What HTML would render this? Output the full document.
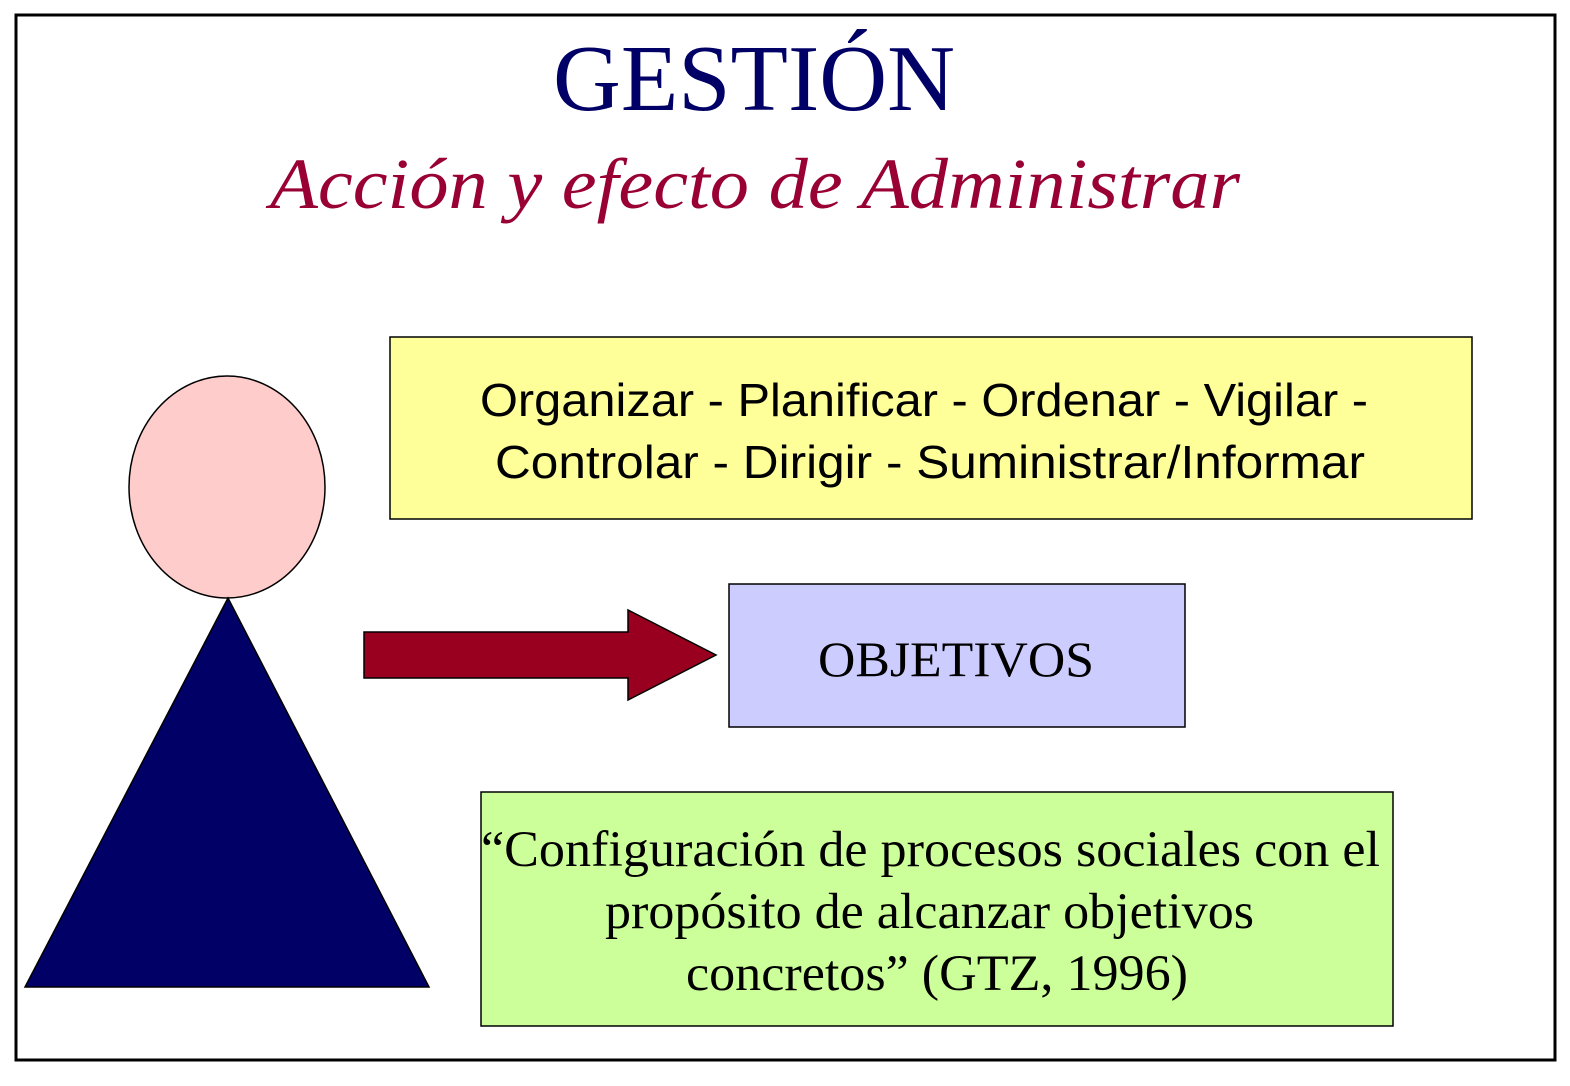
<!DOCTYPE html>
<html><head><meta charset="utf-8"><style>
body{margin:0;background:#fff}
</style></head><body>
<svg width="1570" height="1081" viewBox="0 0 1570 1081" xmlns="http://www.w3.org/2000/svg">
<rect x="0" y="0" width="1570" height="1081" fill="#fff"/>
<rect x="16" y="15" width="1539" height="1045" fill="none" stroke="#000" stroke-width="3"/>
<text x="553" y="110" textLength="402" lengthAdjust="spacingAndGlyphs" font-family="Liberation Serif, serif" font-size="94" fill="#000066">GESTIÓN</text>
<text x="270" y="208" textLength="970" lengthAdjust="spacingAndGlyphs" font-family="Liberation Serif, serif" font-style="italic" font-size="72" fill="#990033">Acción y efecto de Administrar</text>
<rect x="390" y="337" width="1082" height="182" fill="#ffff99" stroke="#000" stroke-width="1.5"/>
<text font-family="Liberation Sans, sans-serif" font-size="46" fill="#000">
<tspan x="480" y="416" textLength="888" lengthAdjust="spacingAndGlyphs">Organizar - Planificar - Ordenar - Vigilar -</tspan>
<tspan x="495" y="478" textLength="870" lengthAdjust="spacingAndGlyphs">Controlar - Dirigir - Suministrar/Informar</tspan></text>
<ellipse cx="227" cy="487" rx="98" ry="111" fill="#ffcccc" stroke="#000" stroke-width="1.5"/>
<polygon points="228,598 25,987 429,987" fill="#000066" stroke="#000" stroke-width="1.5"/>
<polygon points="364,632 628,632 628,610 716,655 628,700 628,678 364,678" fill="#99001f" stroke="#000" stroke-width="1.5"/>
<rect x="729" y="584" width="456" height="143" fill="#ccccff" stroke="#000" stroke-width="1.5"/>
<text x="818" y="676" textLength="276" lengthAdjust="spacingAndGlyphs" font-family="Liberation Serif, serif" font-size="50" fill="#000">OBJETIVOS</text>
<rect x="481" y="792" width="912" height="234" fill="#ccff99" stroke="#000" stroke-width="1.5"/>
<text font-family="Liberation Serif, serif" font-size="51" fill="#000">
<tspan x="481" y="866" textLength="899" lengthAdjust="spacingAndGlyphs">“Configuración de procesos sociales con el</tspan>
<tspan x="605" y="928" textLength="649" lengthAdjust="spacingAndGlyphs">propósito de alcanzar objetivos</tspan>
<tspan x="686" y="990" textLength="502" lengthAdjust="spacingAndGlyphs">concretos” (GTZ, 1996)</tspan></text>
</svg>
</body></html>
